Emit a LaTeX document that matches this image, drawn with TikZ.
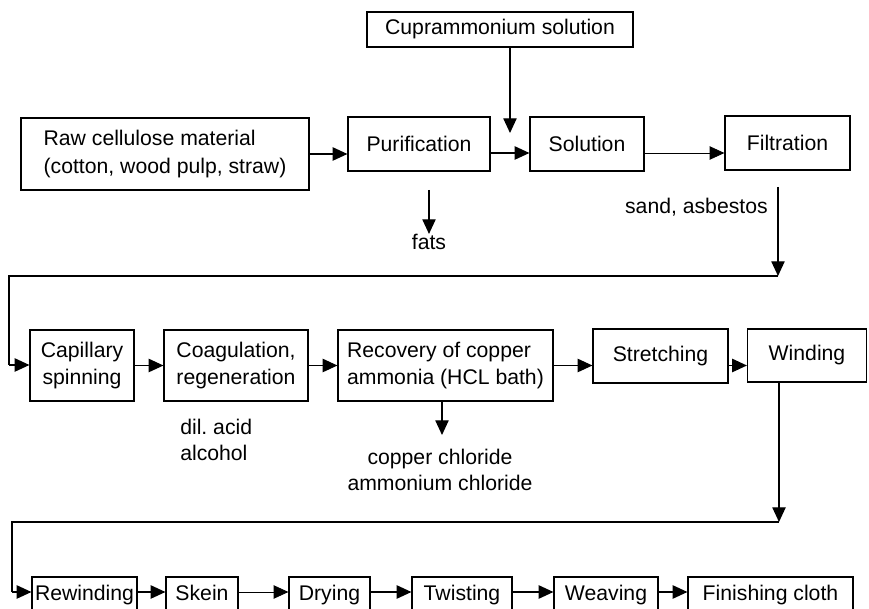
\documentclass[tikz,border=0pt]{standalone}
\usepackage{fontspec}
\setmainfont{Liberation Sans}
\usetikzlibrary{arrows.meta}

\begin{document}
% coordinates are given on a 869 x 609 grid, y growing downwards
\begin{tikzpicture}[x=0.75pt, y=-0.75pt,
  font=\fontsize{15.9pt}{20pt}\selectfont,
  box/.style={draw, line width=0.9pt, inner sep=2pt, align=center},
  conn/.style={line width=0.9pt},
  arr/.style={line width=0.9pt, -{Triangle[length=11pt, width=10pt]}},
  thinarr/.style={line width=0.6pt, -{Triangle[length=11pt, width=10pt]}},
  lbl/.style={inner sep=0pt, align=left}]
\useasboundingbox (0,0) rectangle (869,609);

% ---- first row ----
\node[box, minimum width=199.5pt, minimum height=26.25pt] (cupra) at (500,29.5) {Cuprammonium solution};
\node[box, minimum width=216pt, minimum height=54pt, align=left, font=\fontsize{15.9pt}{21pt}\selectfont] (raw) at (165,154)
  {Raw cellulose material\\(cotton, wood pulp, straw)};
\node[box, minimum width=106.5pt, minimum height=40.5pt] (purif) at (419,144) {Purification};
\node[box, minimum width=85.5pt, minimum height=40.5pt] (sol) at (587,144) {Solution};
\node[box, minimum width=93.75pt, minimum height=40.5pt] (filt) at (787.5,143) {Filtration};

\node[lbl] (fats) at (429,242) {fats};
\node[lbl, anchor=east] (sand) at (768,207) {sand, asbestos};

\coordinate (cupraEnd) at (510,133);
\coordinate (fatsTop) at (429,190);
\coordinate (filtTop) at (778,187);
\coordinate (filtTurn) at (778,276);
\coordinate (leftTurnA) at (9,276);
\coordinate (leftTurnB) at (9,365);

\draw[arr] ([xshift=7.5pt]cupra.south) -- (cupraEnd);
\draw[arr] (raw.east) -- (raw.east -| purif.west);
\draw[arr] ([yshift=-6.75pt]purif.east) -- ([yshift=-6.75pt]purif.east -| sol.west);
\draw[thinarr] ([yshift=-6.75pt]sol.east) -- ([yshift=-6.75pt]sol.east -| filt.west);
\draw[arr] (fatsTop) -- (fats.north);

% ---- second row ----
\node[box, minimum width=78pt, minimum height=53.25pt] (cap) at (82,365.5) {Capillary\\spinning};
\node[box, minimum width=108pt, minimum height=53.25pt] (coag) at (236,365.5) {Coagulation,\\regeneration};
\node[box, minimum width=161.25pt, minimum height=53.25pt, align=left] (rec) at (445.5,365.5)
  {Recovery of copper\\ammonia (HCL bath)};
\node[box, minimum width=101.25pt, minimum height=40.5pt] (stretch) at (660.5,356) {Stretching};
\node[box, minimum width=89.25pt, minimum height=39.75pt] (wind) at (807,355.5) {Winding};

\node[lbl, anchor=west, font=\fontsize{15.9pt}{19.5pt}\selectfont] (acid) at (180,440) {dil.\ acid\\alcohol};
\node[lbl, align=center, font=\fontsize{15.9pt}{19.5pt}\selectfont] (chlor) at (440,470)
  {copper chloride\\ammonium chloride};
\coordinate (recEnd) at (442,435);

\draw[arr] (filtTop) -- (filtTurn);
\draw[conn] (filtTurn) -- (leftTurnA) -- (leftTurnB);
\draw[arr] (leftTurnB) -- (leftTurnB -| cap.west);
\draw[arr] (cap.east) -- (coag.west);
\draw[arr] (coag.east) -- (coag.east -| rec.west);
\draw[arr] (rec.east) -- (rec.east -| stretch.west);
\draw[arr] (rec.east -| stretch.east) -- (rec.east -| wind.west);
\draw[arr] (rec.south -| recEnd) -- (recEnd);

% ---- third row ----
\tikzset{lowbox/.style={box, minimum height=27pt, inner sep=1pt, text height=11.5pt, text depth=3.3pt}}
\node[lowbox, minimum width=78.75pt] (rew) at (84.5,595) {Rewinding};
\node[lowbox, minimum width=54pt] (skein) at (202,595) {Skein};
\node[lowbox, minimum width=60.75pt] (dry) at (329.5,595) {Drying};
\node[lowbox, minimum width=75pt] (twist) at (462,595) {Twisting};
\node[lowbox, minimum width=78pt] (weave) at (606,595) {Weaving};
\node[lowbox, minimum width=123.75pt] (finish) at (770.5,595) {Finishing cloth};

\coordinate (windTurn) at (779,522);
\coordinate (lowTurnA) at (12,522);
\coordinate (lowTurnB) at (12,592);

\draw[arr] (wind.south -| windTurn) -- (windTurn);
\draw[conn] (windTurn) -- (lowTurnA) -- (lowTurnB);
\draw[arr] (lowTurnB) -- (lowTurnB -| rew.west);
\draw[arr] ([yshift=2.25pt]rew.east) -- ([yshift=2.25pt]skein.west);
\draw[thinarr] ([yshift=2.25pt]skein.east) -- ([yshift=2.25pt]dry.west);
\draw[arr] ([yshift=2.25pt]dry.east) -- ([yshift=2.25pt]twist.west);
\draw[arr] ([yshift=2.25pt]twist.east) -- ([yshift=2.25pt]weave.west);
\draw[arr] ([yshift=2.25pt]weave.east) -- ([yshift=2.25pt]finish.west);
\end{tikzpicture}
\end{document}
